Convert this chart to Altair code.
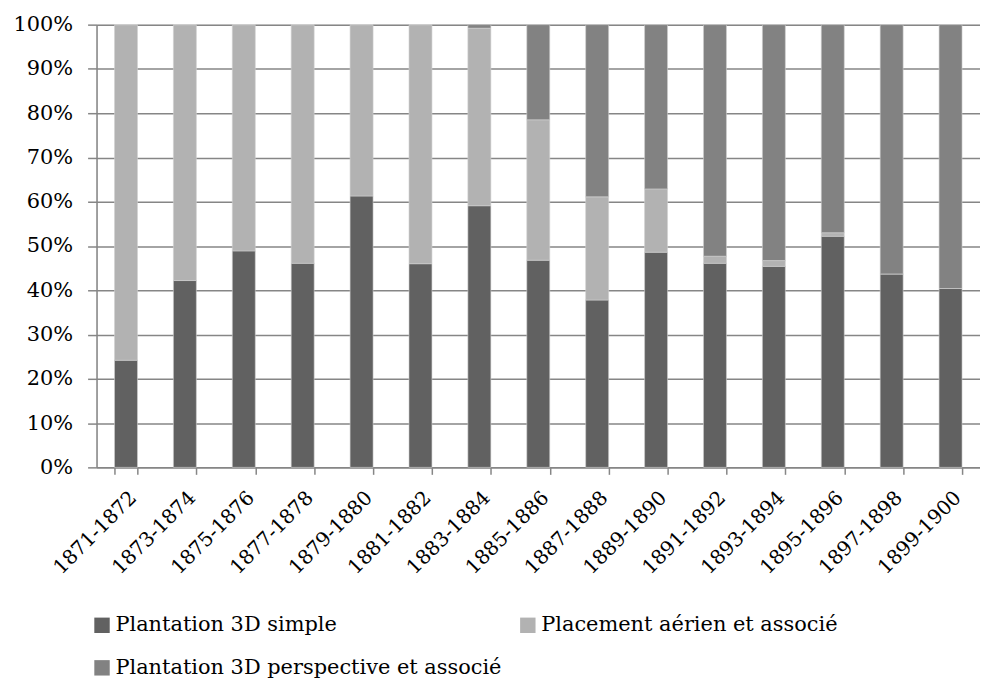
import altair as alt
import pandas as pd

periods = ["1871-1872", "1873-1874", "1875-1876", "1877-1878", "1879-1880",
           "1881-1882", "1883-1884", "1885-1886", "1887-1888", "1889-1890",
           "1891-1892", "1893-1894", "1895-1896", "1897-1898", "1899-1900"]
series = ["Plantation 3D simple", "Placement aérien et associé",
          "Plantation 3D perspective et associé"]
simple = [24.2, 42.2, 48.9, 46.1, 61.3, 46.0, 59.1, 46.8, 37.8, 48.6, 46.1, 45.4, 52.2, 43.7, 40.4]
aerien = [75.8, 57.8, 51.1, 53.9, 38.7, 54.0, 40.1, 31.7, 23.3, 14.3, 1.6, 1.3, 0.8, 0.0, 0.0]
perspective = [0.0, 0.0, 0.0, 0.0, 0.0, 0.0, 0.8, 21.5, 38.9, 37.1, 52.3, 53.3, 47.0, 56.3, 59.6]
colors = ["#616161", "#b2b2b2", "#828282"]

rows = []
for i, p in enumerate(periods):
    for k, vals in enumerate([simple, aerien, perspective]):
        rows.append({"periode": p, "serie": series[k], "ordre": k, "valeur": vals[i]})
df = pd.DataFrame(rows)

FONT = "DejaVu Serif"
GRID = "#868686"

chart = alt.Chart(df).mark_bar(stroke="#d0d0d0", strokeWidth=0.6).encode(
    x=alt.X("periode:N", sort=periods, title=None,
            scale=alt.Scale(paddingInner=0.61, paddingOuter=0.305),
            axis=alt.Axis(labelAngle=-45, labelAlign="right", labelBaseline="top",
                          labelFontSize=20, labelFont=FONT, labelColor="#000000",
                          tickBand="extent", tickSize=7, tickColor=GRID, tickWidth=1.5,
                          domainColor=GRID, domainWidth=1.5, labelPadding=13,
                          grid=False)),
    y=alt.Y("valeur:Q", stack="normalize", title=None,
            scale=alt.Scale(domain=[0, 1], nice=False),
            axis=alt.Axis(values=[0, 0.1, 0.2, 0.3, 0.4, 0.5, 0.6, 0.7, 0.8, 0.9, 1.0],
                          format=".0%", labelFontSize=21, labelFont=FONT,
                          labelColor="#000000", tickSize=9, tickColor=GRID, tickWidth=1.5,
                          domainColor=GRID, domainWidth=1.5, labelPadding=15,
                          grid=True, gridColor=GRID, gridWidth=1.5)),
    color=alt.Color("serie:N", sort=series,
                    scale=alt.Scale(domain=series, range=colors),
                    legend=alt.Legend(title=None, orient="none", legendX=-5, legendY=593,
                                      direction="horizontal", columns=2,
                                      symbolType="square", symbolSize=240,
                                      symbolStrokeWidth=0, symbolOffset=0,
                                      labelFont=FONT, labelFontSize=21,
                                      labelColor="#000000", labelOffset=3,
                                      labelLimit=500, columnPadding=15,
                                      rowPadding=21, padding=0)),
    order=alt.Order("ordre:Q"),
).properties(
    width=888, height=445,
    padding={"left": 89, "top": 15, "right": 0, "bottom": 214},
    autosize=alt.AutoSizeParams(type="none"),
).configure_view(stroke=None).configure(background="#ffffff", font=FONT)

chart.save("out.html", embed_options={"renderer": "svg", "actions": False})
